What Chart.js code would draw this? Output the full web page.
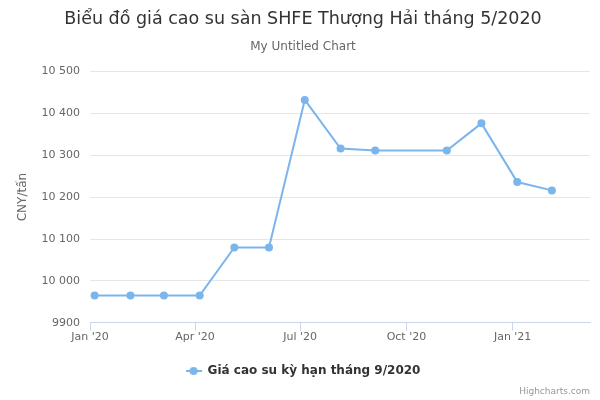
<!DOCTYPE html>
<html>
<head>
<meta charset="utf-8">
<script src="https://cdn.jsdelivr.net/npm/chart.js@4/dist/chart.umd.min.js"></script>
<style>
  html, body { margin:0; padding:0; background:#fff; }
  #wrap { width:600px; height:400px; }
</style>
</head>
<body>
<div id="wrap"><canvas id="chart" width="600" height="400"></canvas></div>
<script>
// data (monthly quotes, October missing)
const dates = ['2020-01-05','2020-02-05','2020-03-05','2020-04-05','2020-05-05','2020-06-04',
  '2020-07-05','2020-08-05','2020-09-04','2020-11-05','2020-12-05','2021-01-05','2021-02-04'];
const prices = [9965, 9965, 9965, 9965, 10080, 10080, 10432, 10316, 10311, 10311, 10376, 10236, 10216];
const tickDates = ['2020-01-01','2020-04-01','2020-07-01','2020-10-01','2021-01-01'];
const tickLabels = ["Jan '20", "Apr '20", "Jul '20", "Oct '20", "Jan '21"];
const xRange = ['2020-01-01', '2021-03-09'];
const seriesName = 'Giá cao su kỳ hạn tháng 9/2020';

const ts = s => Date.parse(s + 'T00:00:00Z');
const FONT = '"DejaVu Sans", Verdana, sans-serif';
const blue = '#7cb5ec';

function fmt(v){
  const s = String(v);
  return v >= 10000 ? s.replace(/\B(?=(\d{3})+(?!\d))/g, ' ') : s;
}

// little line+dot symbol for the legend
const sym = document.createElement('canvas');
sym.width = 16; sym.height = 10;
(function(){
  const c = sym.getContext('2d');
  c.strokeStyle = blue; c.lineWidth = 2;
  c.beginPath(); c.moveTo(0,5); c.lineTo(16,5); c.stroke();
  c.fillStyle = blue;
  c.beginPath(); c.arc(8,5,4,0,Math.PI*2); c.fill();
})();

const credits = {
  id:'credits',
  afterDraw(chart){
    const ctx = chart.ctx;
    ctx.save();
    ctx.font = '9px ' + FONT;
    ctx.fillStyle = '#999';
    ctx.textAlign = 'right';
    ctx.textBaseline = 'middle';
    ctx.fillText('Highcharts.com', 590, 392);
    ctx.restore();
  }
};

new Chart(document.getElementById('chart'), {
  type:'line',
  data:{datasets:[{
    label: seriesName,
    data: dates.map((d,i)=>({x:ts(d), y:prices[i]})),
    borderColor: blue, backgroundColor: blue,
    borderWidth: 2, pointRadius: 4, pointBackgroundColor: blue, pointBorderWidth: 0,
    tension: 0
  }]},
  options:{
    responsive:false, animation:false,
    layout:{padding:{left:16, right:10, top:0, bottom:13}},
    scales:{
      x:{
        type:'linear', min:ts(xRange[0]), max:ts(xRange[1]),
        afterBuildTicks(scale){ scale.ticks = tickDates.map(d=>({value:ts(d)})); },
        afterFit(scale){ scale.height += 11; },
        ticks:{
          autoSkip:false, maxRotation:0, padding:0,
          color:'#666', font:{family:FONT, size:11},
          callback(v){ const i = tickDates.findIndex(d=>ts(d)===v); return i<0 ? '' : tickLabels[i]; }
        },
        grid:{drawOnChartArea:false, drawTicks:true, tickLength:8, color:'#ccd6eb'},
        border:{color:'#ccd6eb', width:1}
      },
      y:{
        min:9900, max:10500,
        afterFit(scale){ scale.width = 74; },
        ticks:{stepSize:100, padding:10, color:'#666', font:{family:FONT, size:11}, callback:v=>fmt(v)},
        grid:{color:'#e6e6e6', drawTicks:false},
        border:{display:false},
        title:{display:true, text:'CNY/tấn', color:'#666', font:{family:FONT, size:12}, padding:{top:0,bottom:0}}
      }
    },
    plugins:{
      title:{display:true, text:'Biểu đồ giá cao su sàn SHFE Thượng Hải tháng 5/2020',
        color:'#333', font:{family:FONT, size:17.5, weight:'normal'}, padding:{top:9, bottom:6}},
      subtitle:{display:true, text:'My Untitled Chart',
        color:'#666', font:{family:FONT, size:12}, padding:{top:4, bottom:17}},
      legend:{
        position:'bottom',
        labels:{
          usePointStyle:true, pointStyleWidth:16, boxHeight:10,
          color:'#333', font:{family:FONT, size:12, weight:'bold'},
          generateLabels(chart){
            return [{text:seriesName, pointStyle:sym, fillStyle:blue, strokeStyle:blue,
              lineWidth:0, fontColor:'#333', datasetIndex:0, hidden:false}];
          }
        }
      },
      tooltip:{enabled:false}
    }
  },
  plugins:[credits]
});
</script>
</body>
</html>
